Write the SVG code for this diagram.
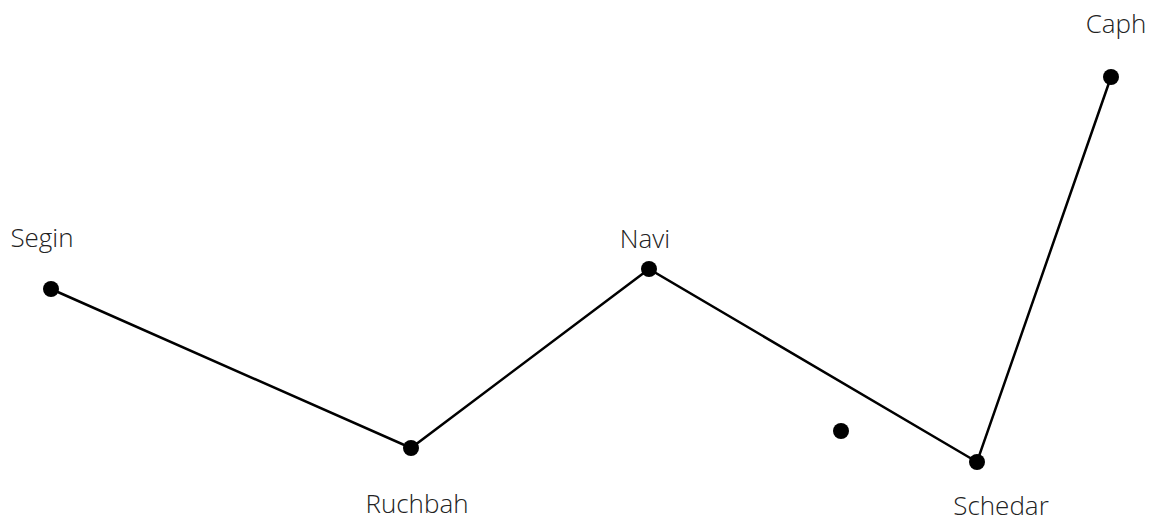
<svg xmlns="http://www.w3.org/2000/svg" width="1152" height="523" viewBox="0 0 1152 523">
<style>
.lbl{font-family:"Open Sans","Liberation Sans",sans-serif;font-size:26px;fill:#222;text-anchor:middle;font-weight:300}
.dot{fill:#000}
.edge{stroke:#000;stroke-width:2.5;fill:none}
</style>
<rect width="1152" height="523" fill="#fff"/>
<g id="connectors">
<polyline class="edge" points="51,289 411,448 649,269 977,462 1111,77"/>
</g>
<g id="Segin"><circle class="dot" cx="51" cy="289" r="8"/><text class="lbl" x="42" y="247">Segin</text></g>
<g id="Ruchbah"><circle class="dot" cx="411" cy="448" r="8"/><text class="lbl" x="417" y="513">Ruchbah</text></g>
<g id="Navi"><circle class="dot" cx="649" cy="269" r="8"/><text class="lbl" x="645" y="248">Navi</text></g>
<g id="star"><circle class="dot" cx="841" cy="431" r="8"/></g>
<g id="Schedar"><circle class="dot" cx="977" cy="462" r="8"/><text class="lbl" x="1001" y="515">Schedar</text></g>
<g id="Caph"><circle class="dot" cx="1111" cy="77" r="8"/><text class="lbl" x="1116" y="33">Caph</text></g>
</svg>
